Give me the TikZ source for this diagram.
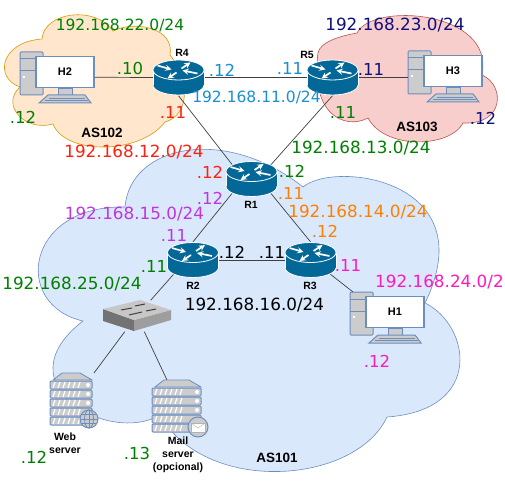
\documentclass[tikz,border=0pt]{standalone}
\usepackage{fontspec}
\setmainfont{DejaVu Sans}
\newfontfamily\iconfont{Liberation Sans}
\usetikzlibrary{shapes.geometric}

\definecolor{cloudblue}{HTML}{DAE8FC}
\definecolor{edgeblue}{HTML}{6C8EBF}
\definecolor{cloudorange}{HTML}{FFE6CC}
\definecolor{edgeorange}{HTML}{D79B00}
\definecolor{cloudred}{HTML}{F8CECC}
\definecolor{edgered}{HTML}{B85450}
\definecolor{routerblue}{HTML}{036897}
\definecolor{partgray}{HTML}{CCCCCC}
\definecolor{ipgreen}{HTML}{008000}
\definecolor{ipblue}{HTML}{1A8FD0}
\definecolor{ipnavy}{HTML}{10107A}
\definecolor{ipred}{HTML}{FF2010}
\definecolor{iporange}{HTML}{FF8000}
\definecolor{ippurple}{HTML}{BF35DF}
\definecolor{ippink}{HTML}{FF19BF}

\tikzset{
  cloudshape/.style={line width=0.6pt},
  link/.style={draw=black!75,line width=0.7pt},
  routernode/.style={ellipse,minimum width=51pt,minimum height=36pt,inner sep=0pt},
  monitor/.style={draw=edgeblue,fill=white,line width=1.6pt,minimum width=58pt,minimum height=31pt,inner sep=0pt,
    font=\iconfont\bfseries\fontsize{11}{13}\selectfont},
  iconlabel/.style={font=\iconfont\bfseries\fontsize{10.5}{13}\selectfont,align=center,inner sep=0pt},
  aslabel/.style={font=\iconfont\bfseries\fontsize{13.5}{16}\selectfont,inner sep=0pt},
  subnet/.style={font=\fontsize{16.8}{20}\selectfont,inner sep=0pt},
  subnetsmall/.style={font=\fontsize{15.5}{19}\selectfont,inner sep=0pt},
  addr/.style={font=\fontsize{16.5}{20}\selectfont,inner sep=0pt},
  routericon/.pic={
    \draw[white,fill=routerblue,line width=0.8pt] (0,7.5) ellipse [x radius=25.5pt,y radius=10pt];
    \fill[routerblue] (-25.5,-7.5) rectangle (25.5,7.5);
    \draw[white,line width=0.8pt] (-25.5,-7.5) -- (-25.5,7.5) (25.5,-7.5) -- (25.5,7.5);
    \draw[white,fill=routerblue,line width=0.8pt] (0,-7.5) ellipse [x radius=25.5pt,y radius=10pt];
    \draw[-stealth,white,line width=1.7pt] (-21,-12) -- (-7,-8);
    \draw[-stealth,white,line width=1.7pt] (3,-9) -- (12,-15);
    \draw[-stealth,white,line width=1.7pt] (19,-4) -- (4,-7);
    \draw[-stealth,white,line width=1.7pt] (-2,-5) -- (-11,1);
  },
  hostbase/.pic={
    \draw[edgeblue,fill=partgray,line width=1pt,rounded corners=1pt] (-45,-20) rectangle (-22,23);
    \draw[edgeblue,line width=1pt] (-45,-13) -- (-22,-13) (-45,-1) -- (-22,-1);
    \fill[white] (-42.5,4) rectangle (-40.5,6);
    \draw[edgeblue,fill=partgray,line width=0.8pt] (-7,16) rectangle (7,23);
    \draw[edgeblue,fill=partgray,line width=1pt] (-17,23) -- (20,23) -- (26,31) -- (-26,31) -- cycle;
    \draw[edgeblue,line width=0.8pt] (-16,26) -- (20,26) (-20,28.5) -- (23,28.5);
  },
  rack/.pic={
    \draw[edgeblue,fill=partgray,line width=0.8pt] (3,7) -- (12,0) -- (#1-12,0) -- (#1,7) -- cycle;
    \foreach \i in {0,1,2,3,4} {
      \draw[edgeblue,fill=partgray,line width=1pt,rounded corners=1pt] (0,8+\i*9) rectangle (#1,16+\i*9);
      \foreach \j in {0,1,2,3,4,5} {
        \draw[white,line width=1.2pt] (3+\j*5,15+\i*9) -- (5+\j*5,9+\i*9);
      }
      \fill[white] (#1-4,12+\i*9) circle (2pt);
    }
  },
  switchicon/.pic={
    \fill[black!55] (-34,-7) -- (-3,4) -- (-3,15) -- (-34,5) -- cycle;
    \fill[black!38] (-3,4) -- (34,-6) -- (34,4) -- (-3,15) -- cycle;
    \fill[black!22] (-34,-7) -- (3,-16) -- (34,-6) -- (-3,4) -- cycle;
    \draw[black!75,line width=1pt] (-16,-6) -- (-5,-8) (-2,-10) -- (8,-12) (-8,-1) -- (5,-4) (9,-5) -- (19,-7);
  }
}

\begin{document}
\begin{tikzpicture}[x=1pt,y=-1pt]
\useasboundingbox (0,0) rectangle (505,486);

% clouds
\draw[cloudshape,draw=edgeorange,fill=cloudorange] (42,39) .. controls (44,12) and (95,5) .. (113,31)
  .. controls (135,20) and (175,28) .. (170,55) .. controls (190,80) and (190,115) .. (165,122)
  .. controls (140,155) and (65,155) .. (53,124) .. controls (25,132) and (0,105) .. (20,87)
  .. controls (-6,78) and (0,42) .. (42,39) -- cycle;
\draw[cloudshape,draw=edgered,fill=cloudred] (357,33) .. controls (372,2) and (495,10) .. (482,75)
  .. controls (505,85) and (505,125) .. (463,123) .. controls (450,148) and (385,150) .. (368,118)
  .. controls (345,130) and (310,115) .. (318,53) .. controls (320,42) and (340,36) .. (357,33) -- cycle;
\draw[cloudshape,draw=edgeblue,fill=cloudblue] (125,207) .. controls (130,145) and (225,125) .. (303,187)
  .. controls (335,160) and (485,180) .. (425,303) .. controls (470,325) and (485,410) .. (387,417)
  .. controls (355,485) and (205,495) .. (160,415) .. controls (110,445) and (0,385) .. (83,321)
  .. controls (12,305) and (25,205) .. (125,207) -- cycle;

% devices that the links attach to
\node[routernode] (R1) at (251.5,179) {};
\node[routernode] (R2) at (193,260) {};
\node[routernode] (R3) at (310.5,260) {};
\node[routernode] (R4) at (178.5,77.5) {};
\node[routernode] (R5) at (332.5,77.5) {};
\node[minimum width=68pt,minimum height=31pt,inner sep=0pt] (SW) at (137,316) {};
\coordinate (WS) at (94,373);
\coordinate (MS) at (167,380);
\coordinate (H1tower) at (353,292);
\coordinate (H3tower) at (408,77.5);

\pic at (65,72) {hostbase};
\node[monitor] (H2) at (65,72) {H2};
\pic at (453,71) {hostbase};
\node[monitor] (H3) at (453,71) {H3};
\pic at (395,312) {hostbase};
\node[monitor] (H1) at (395,312) {H1};

% links
\draw[link] (H2.-10) -- (R4.west);
\draw[link] (R4.east) -- (R5.west);
\draw[link] (R5.east) -- (H3tower);
\draw[link] (R4.south) -- (R1.north west);
\draw[link] (R5.south) -- (R1.north east);
\draw[link] (R1.south west) -- (R2.north);
\draw[link] (R1.south east) -- (R3.north);
\draw[link] (R2.east) -- (R3.west);
\draw[link] (R2.south west) -- (SW.49);
\draw[link] (R3.south east) -- (H1tower);
\draw[link] (SW.232) -- (WS);
\draw[link] (SW.295) -- (MS);

% icons
\foreach \p in {R1,R2,R3,R4,R5} {
  \pic at (\p) {routericon};
}
\pic at (SW) {switchicon};
\pic at (50,373) {rack=42};
\pic at (152,380) {rack=49};
\draw[edgeblue,fill=partgray,line width=1pt] (89,419) circle (9pt);
\draw[edgeblue,line width=0.8pt] (89,410) -- (89,428) (80,419) -- (98,419) (81.5,414.5) -- (96.5,414.5) (81.5,423.5) -- (96.5,423.5);
\draw[edgeblue,line width=0.8pt] (89,419) ellipse [x radius=4.5pt,y radius=9pt];
\draw[edgeblue,fill=partgray,line width=1pt] (198,427) circle (10pt);
\draw[gray!60,fill=white,line width=0.4pt] (191,423) rectangle (205,432);
\draw[gray!60,line width=0.4pt] (191,423) -- (198,428) -- (205,423);

% icon names
\node[iconlabel] (R1name) at (251,205) {R1};
\node[iconlabel] (R2name) at (193,286) {R2};
\node[iconlabel] (R3name) at (310,286) {R3};
\node[iconlabel] (R4name) at (182,53) {R4};
\node[iconlabel] (R5name) at (307,55) {R5};
\node[iconlabel] (WSname) at (65,443.5) {Web\\server};
\node[iconlabel] (MSname) at (178,455) {Mail\\server\\(opcional)};
\node[aslabel] (AS101) at (277,458) {AS101};
\node[aslabel] (AS102) at (102,133) {AS102};
\node[aslabel] (AS103) at (417,127) {AS103};

% subnets
\node[subnetsmall,color=ipgreen] (net22) at (120,25) {192.168.22.0/24};
\node[subnetsmall,color=ipblue] (net11) at (256.5,97) {192.168.11.0/24};
\node[subnet,color=ipnavy] (net23) at (395,25) {192.168.23.0/24};
\node[subnet,color=ipred] (net12) at (134,152) {192.168.12.0/24};
\node[subnet,color=ipgreen] (net13) at (361,148) {192.168.13.0/24};
\node[subnet,color=iporange] (net14) at (358,212) {192.168.14.0/24};
\node[subnet,color=ippurple] (net15) at (134.5,214) {192.168.15.0/24};
\node[subnet,color=black] (net16) at (254.5,305) {192.168.16.0/24};
\node[subnet,color=ipgreen] (net25) at (72,284) {192.168.25.0/24};
\node[subnet,color=ippink,anchor=west] (net24) at (375,282) {192.168.24.0/2};

% addresses
\node[addr,color=ipgreen] (a1) at (130,68) {.10};
\node[addr,color=ipblue] (a2) at (222,70) {.12};
\node[addr,color=ipred] (a3) at (173,112) {.11};
\node[addr,color=ipgreen] (a4) at (23,117) {.12};
\node[addr,color=ipblue] (a5) at (290,68) {.11};
\node[addr,color=ipnavy] (a6) at (371,69) {.11};
\node[addr,color=ipgreen] (a7) at (343,112) {.11};
\node[addr,color=ipnavy] (a8) at (483,118) {.12};
\node[addr,color=ipred] (a9) at (210,172) {.12};
\node[addr,color=ippurple] (a10) at (210,198) {.12};
\node[addr,color=ipgreen] (a11) at (292,171) {.12};
\node[addr,color=iporange] (a12) at (291,193) {.11};
\node[addr,color=ippurple] (a13) at (174,235) {.11};
\node[addr,color=iporange] (a14) at (325,231) {.12};
\node[addr,color=ipgreen] (a15) at (154,266) {.11};
\node[addr,color=black] (a16) at (232,252) {.12};
\node[addr,color=black] (a17) at (272,252) {.11};
\node[addr,color=ippink] (a18) at (348,265) {.11};
\node[addr,color=ippink] (a19) at (377,361) {.12};
\node[addr,color=ipgreen] (a20) at (34,457) {.12};
\node[addr,color=ipgreen] (a21) at (137,453) {.13};
\end{tikzpicture}
\end{document}
